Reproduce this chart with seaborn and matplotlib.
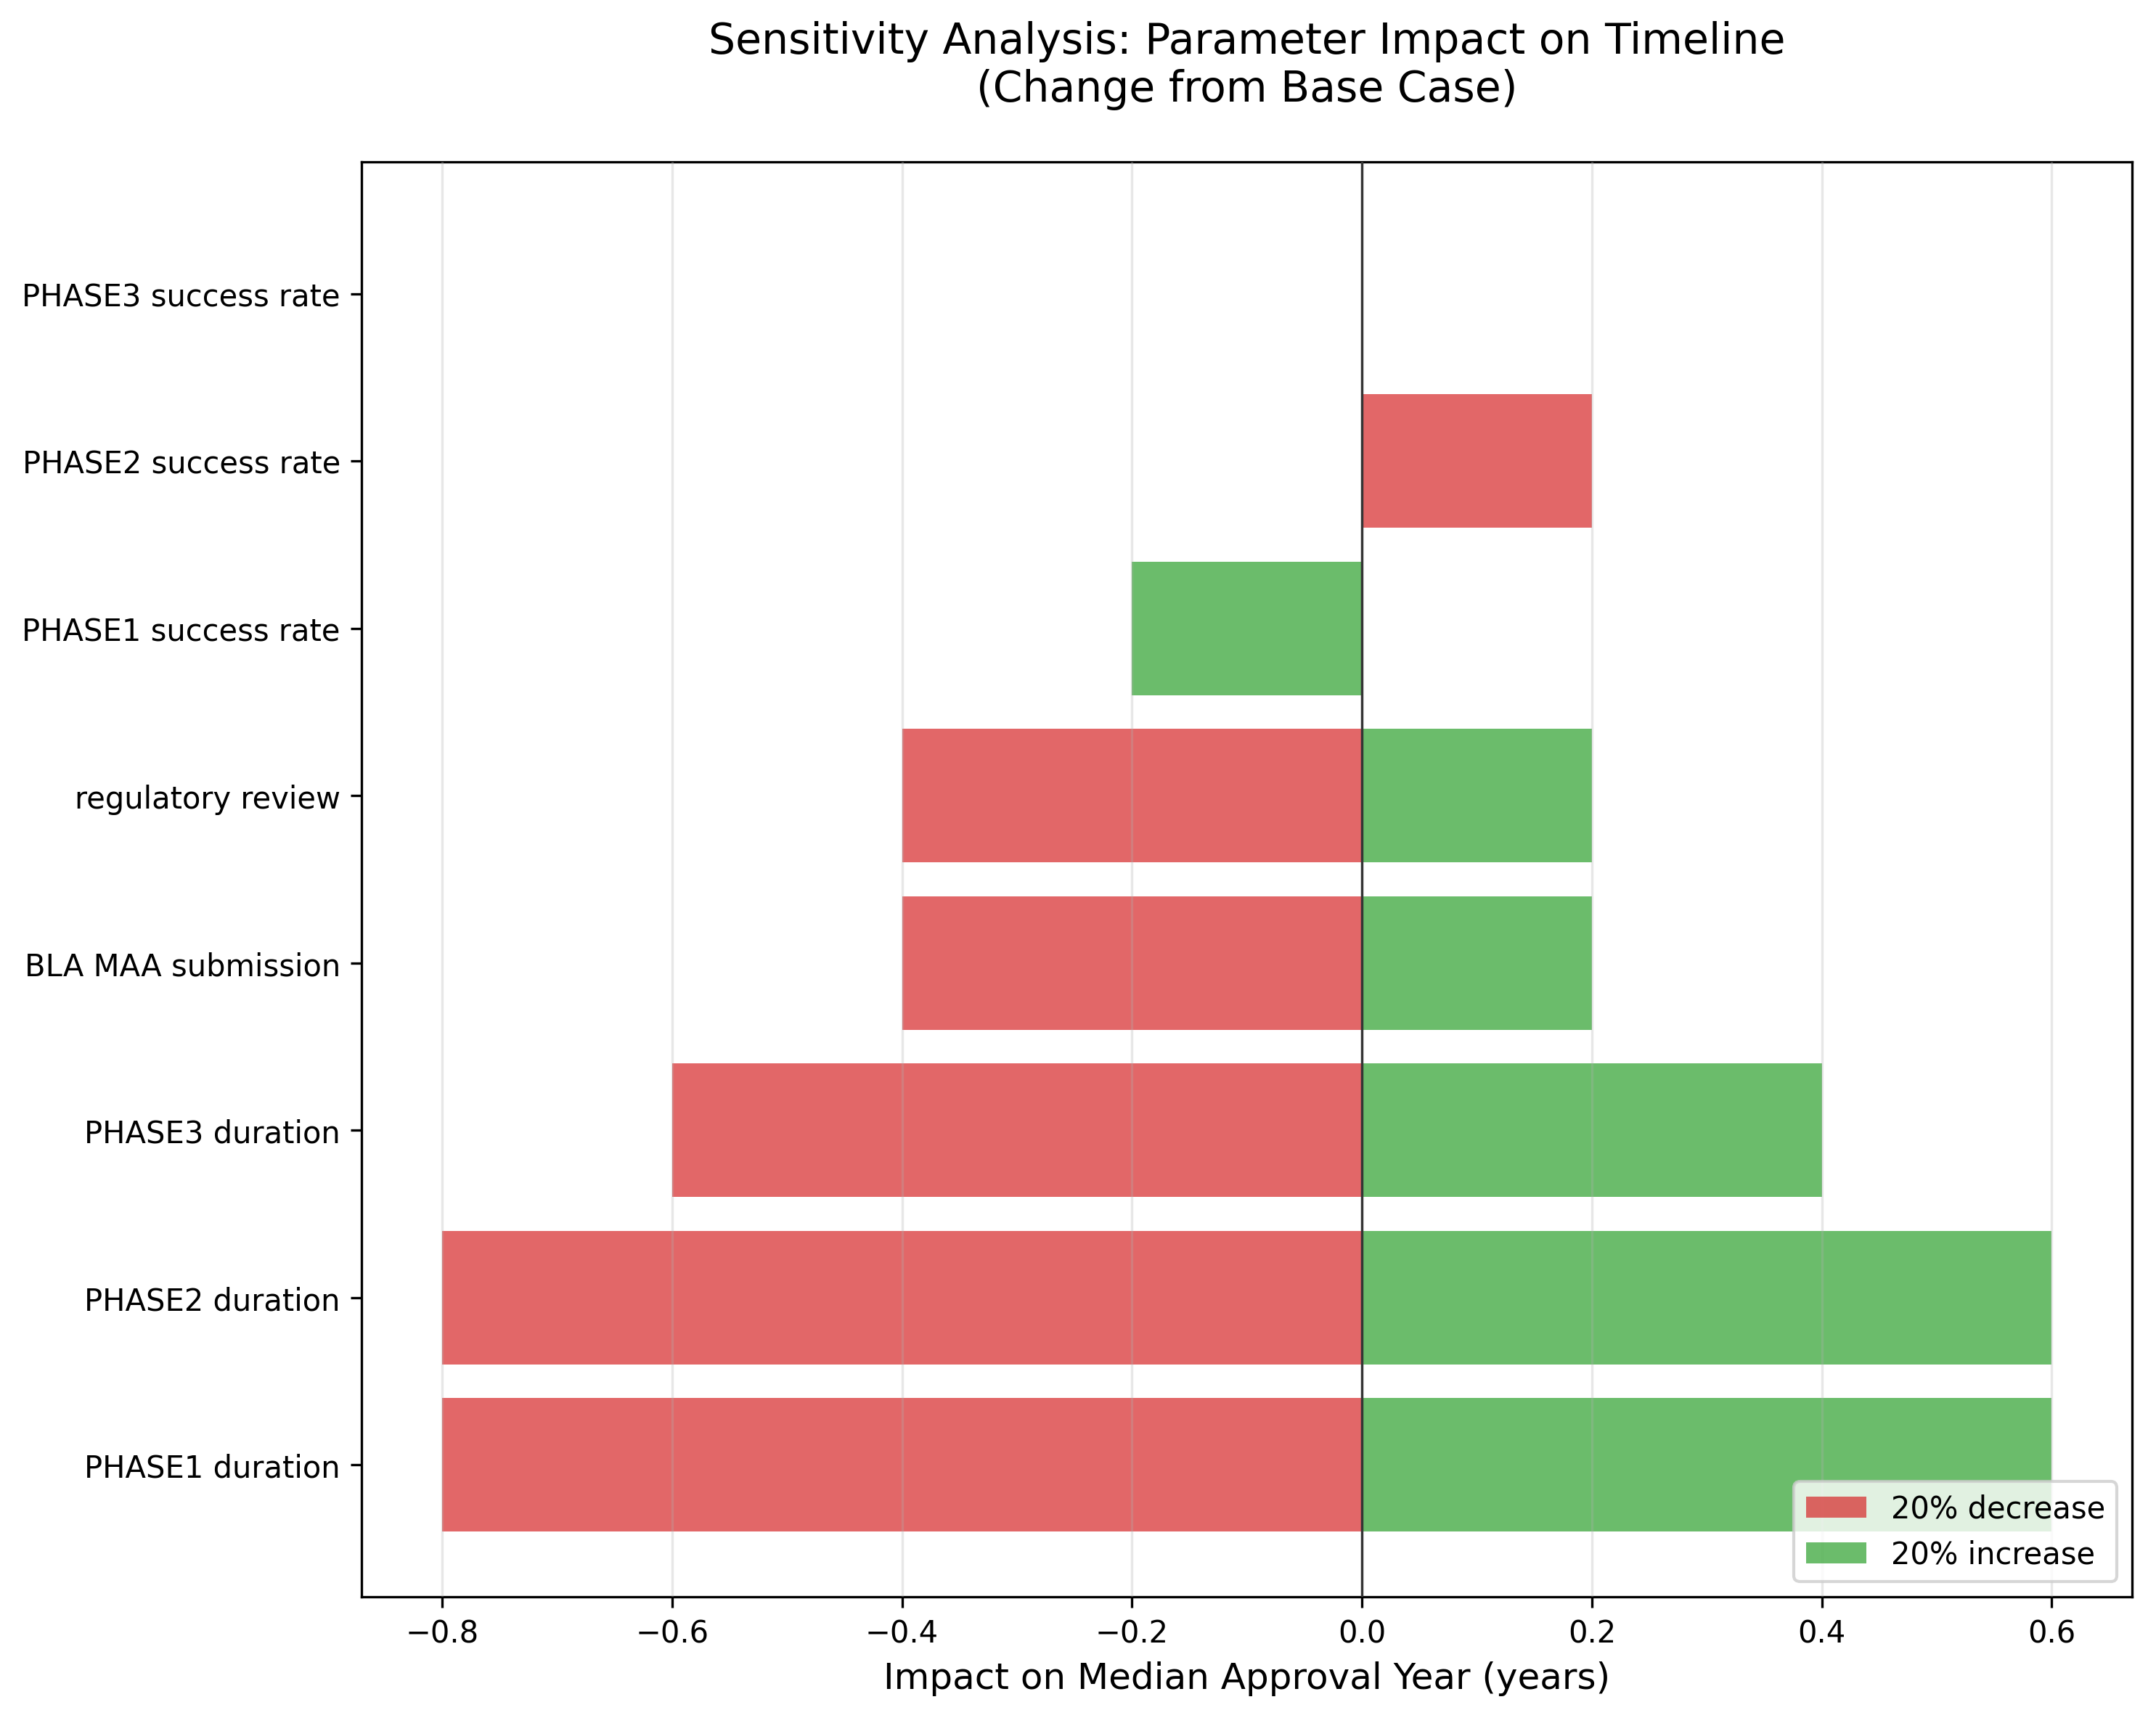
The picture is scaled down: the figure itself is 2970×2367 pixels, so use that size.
import pandas as pd
import matplotlib.pyplot as plt
import seaborn as sns

# Parameters, listed bottom to top as in the chart
params = ['PHASE1 duration', 'PHASE2 duration', 'PHASE3 duration',
          'BLA MAA submission', 'regulatory review',
          'PHASE1 success rate', 'PHASE2 success rate', 'PHASE3 success rate']
decrease_impact = [-0.8, -0.8, -0.6, -0.4, -0.4, 0.0, 0.2, 0.0]
increase_impact = [0.6, 0.6, 0.4, 0.2, 0.2, -0.2, 0.0, 0.0]

df = pd.DataFrame({'parameter': params,
                   'decrease': decrease_impact,
                   'increase': increase_impact})
order = params[::-1]  # seaborn puts the first category at the top

fig, ax = plt.subplots(figsize=(9.9, 7.893), dpi=300)
fig.subplots_adjust(left=0.1677, right=0.989, top=0.9056, bottom=0.0704)

sns.barplot(data=df, x='decrease', y='parameter', order=order, orient='h',
            color='tab:red', alpha=0.7, saturation=1, width=0.8,
            label='20% decrease', ax=ax)
sns.barplot(data=df, x='increase', y='parameter', order=order, orient='h',
            color='tab:green', alpha=0.7, saturation=1, width=0.8,
            label='20% increase', ax=ax)

ax.axvline(0, color='black', linewidth=0.8)
ax.set_axisbelow(False)
ax.grid(axis='x', alpha=0.3)
ax.grid(axis='y', visible=False)
ax.set_xlim(-0.87, 0.67)
ax.set_ylim(7.79, -0.79)
ax.set_ylabel('')
ax.set_xlabel('Impact on Median Approval Year (years)', fontsize=12)
ax.set_title('Sensitivity Analysis: Parameter Impact on Timeline\n(Change from Base Case)',
             fontsize=14, pad=20)
ax.legend(loc='lower right')

plt.savefig('out.png')
